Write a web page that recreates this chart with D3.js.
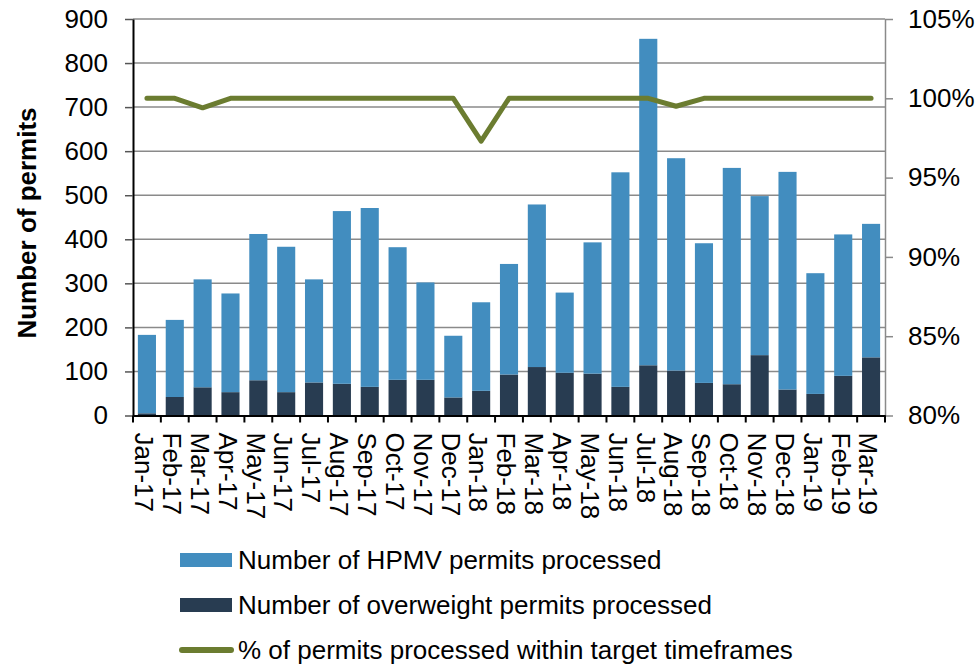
<!DOCTYPE html>
<html>
<head>
<meta charset="utf-8">
<script src="https://cdn.jsdelivr.net/npm/d3@7"></script>
<style>
  body { margin: 0; background: #fff; }
  #chart text { font-family: "Liberation Sans", Arial, sans-serif; fill: #000; }
</style>
</head>
<body>
<div id="chart"></div>
<script>
// months on the x axis
var months = ['Jan-17','Feb-17','Mar-17','Apr-17','May-17','Jun-17','Jul-17','Aug-17','Sep-17',
  'Oct-17','Nov-17','Dec-17','Jan-18','Feb-18','Mar-18','Apr-18','May-18','Jun-18','Jul-18',
  'Aug-18','Sep-18','Oct-18','Nov-18','Dec-18','Jan-19','Feb-19','Mar-19'];

// overweight permits (bottom of stack)
var overweight = [5, 42, 64, 53, 80, 53, 75, 72, 65, 81, 81, 41, 56, 93, 110, 97, 95, 65, 114,
  102, 74, 71, 137, 59, 49, 90, 132];

// HPMV permits (stacked on top)
var hpmv = [178, 175, 245, 224, 332, 330, 234, 392, 406, 301, 221, 140, 201, 251, 369, 182, 298,
  487, 741, 482, 317, 491, 361, 494, 274, 321, 303];

// % processed within target timeframes
var pctOnTime = [100, 100, 99.4, 100, 100, 100, 100, 100, 100, 100, 100, 100, 97.3, 100, 100,
  100, 100, 100, 100, 99.5, 100, 100, 100, 100, 100, 100, 100];

var leftTicks = [0, 100, 200, 300, 400, 500, 600, 700, 800, 900];
var rightTicks = [80, 85, 90, 95, 100, 105];

var legendItems = [
  {label: 'Number of HPMV permits processed', type: 'rect', color: '#428dbf'},
  {label: 'Number of overweight permits processed', type: 'rect', color: '#283c51'},
  {label: '% of permits processed within target timeframes', type: 'line', color: '#6b7c30'}
];

var W = 976, H = 665;
var margin = {top: 19, right: 91, bottom: 249.5, left: 133},
    width = W - margin.left - margin.right,
    height = H - margin.top - margin.bottom;

var svg = d3.select('#chart').append('svg')
    .attr('width', W)
    .attr('height', H);

var g = svg.append('g')
    .attr('transform', 'translate(' + margin.left + ',' + margin.top + ')');

var x = d3.scaleBand()
    .domain(months)
    .range([0, width])
    .paddingInner(0.35)
    .paddingOuter(0.175);

var y = d3.scaleLinear().domain([0, 900]).range([height, 0]);
var y2 = d3.scaleLinear().domain([80, 105]).range([height, 0]);

// gridlines
g.append('g').selectAll('line')
  .data(leftTicks.filter(function(d){ return d > 0; }))
  .enter().append('line')
    .attr('x1', 0).attr('x2', width)
    .attr('y1', function(d){ return y(d); })
    .attr('y2', function(d){ return y(d); })
    .style('stroke', '#8a8a8a')
    .style('stroke-width', 1.5);

// stacked bars
var rows = months.map(function(m, i){
  return {month: m, overweight: overweight[i], hpmv: hpmv[i]};
});
var stack = d3.stack().keys(['overweight', 'hpmv'])(rows);
var colors = {overweight: '#283c51', hpmv: '#428dbf'};

g.append('g').selectAll('g')
  .data(stack)
  .enter().append('g')
    .style('fill', function(s){ return colors[s.key]; })
  .selectAll('rect')
  .data(function(s){ return s; })
  .enter().append('rect')
    .attr('x', function(d){ return x(d.data.month); })
    .attr('width', x.bandwidth())
    .attr('y', function(d){ return y(d[1]); })
    .attr('height', function(d){ return y(d[0]) - y(d[1]); });

// left axis
var yAxis = g.append('g')
    .call(d3.axisLeft(y).tickValues(leftTicks).tickSize(8).tickPadding(17).tickSizeOuter(0));
yAxis.select('.domain').style('stroke', '#000').style('stroke-width', 2);
yAxis.selectAll('.tick line').style('stroke', '#555').style('stroke-width', 1.5);
yAxis.selectAll('text').style('font-size', '26px');

// right axis
var y2Axis = g.append('g')
    .attr('transform', 'translate(' + width + ',0)')
    .call(d3.axisRight(y2).tickValues(rightTicks).tickSize(8).tickPadding(15).tickSizeOuter(0)
      .tickFormat(function(d){ return d + '%'; }));
y2Axis.select('.domain').style('stroke', '#8a8a8a').style('stroke-width', 1.5);
y2Axis.selectAll('.tick line').style('stroke', '#8a8a8a').style('stroke-width', 1.5);
y2Axis.selectAll('text').style('font-size', '26px');

// bottom axis, ticks between categories
var xAxis = g.append('g')
    .attr('transform', 'translate(0,' + height + ')')
    .call(d3.axisBottom(x).tickSize(0).tickSizeOuter(0));
xAxis.select('.domain').style('stroke', '#000').style('stroke-width', 2);
xAxis.selectAll('text')
    .style('font-size', '26px')
    .style('text-anchor', 'start')
    .attr('y', 0)
    .attr('dy', '0.45em')
    .attr('transform', 'translate(0,17) rotate(90)');

var step = x.step();
g.append('g').selectAll('line')
  .data(d3.range(months.length + 1))
  .enter().append('line')
    .attr('x1', function(i){ return i * step; })
    .attr('x2', function(i){ return i * step; })
    .attr('y1', height).attr('y2', height + 7)
    .style('stroke', '#000')
    .style('stroke-width', 2);

// percent line
var line = d3.line()
    .x(function(d, i){ return x(months[i]) + x.bandwidth() / 2; })
    .y(function(d){ return y2(d); });

g.append('path')
    .datum(pctOnTime)
    .attr('d', line)
    .style('fill', 'none')
    .style('stroke', '#6b7c30')
    .style('stroke-width', 5)
    .style('stroke-linecap', 'round')
    .style('stroke-linejoin', 'round');

// y axis title
svg.append('text')
    .attr('transform', 'translate(36,223) rotate(-90)')
    .style('text-anchor', 'middle')
    .style('font-size', '26px')
    .style('font-weight', 'bold')
    .text('Number of permits');

// legend
var legend = svg.append('g').selectAll('g')
  .data(legendItems)
  .enter().append('g')
    .attr('transform', function(d, i){ return 'translate(180,' + (560 + i * 45) + ')'; });

legend.filter(function(d){ return d.type == 'rect'; })
  .append('rect')
    .attr('x', 0).attr('y', -7)
    .attr('width', 52).attr('height', 14)
    .style('fill', function(d){ return d.color; });

legend.filter(function(d){ return d.type == 'line'; })
  .append('line')
    .attr('x1', 2).attr('x2', 51)
    .attr('y1', 0).attr('y2', 0)
    .style('stroke', function(d){ return d.color; })
    .style('stroke-width', 6)
    .style('stroke-linecap', 'round');

legend.append('text')
    .attr('x', 58)
    .attr('dy', '0.35em')
    .style('font-size', '26px')
    .text(function(d){ return d.label; });
</script>
</body>
</html>
